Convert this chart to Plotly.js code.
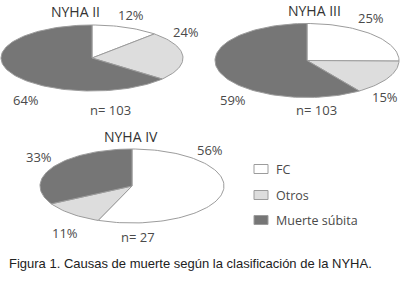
<!DOCTYPE html>
<html>
<head>
<meta charset="utf-8">
<script src="https://cdn.plot.ly/plotly-3.0.1.min.js"></script>
<style>html,body{margin:0;padding:0;background:#fff;}#chart{width:400px;height:281px;}</style>
</head>
<body>
<div id="chart"></div>
<script>
// ---- data ----
const categories = ['FC', 'Otros', 'Muerte súbita'];
const panelTitles = ['NYHA II', 'NYHA III', 'NYHA IV'];
const nLabels = ['n= 103', 'n= 103', 'n= 27'];
const nyhaII = [12, 24, 64];
const nyhaIII = [25, 15, 59];
const nyhaIV = [56, 11, 33];
const caption = 'Figura 1. Causas de muerte según la clasificación de la NYHA.';

// ---- styling / layout ----
const sliceColors = ['#ffffff', '#dddddd', '#767676'];
const edgeColor = '#9c9c9c';
const textColor = '#4a4a4a';
const labelFont = 'Open Sans, DejaVu Sans, sans-serif';
// ellipse geometry per panel (pixel space)
const geom = [
  {cx: 92, cy: 58, rx: 91, ry: 33},
  {cx: 307, cy: 60.5, rx: 92, ry: 37},
  {cx: 132, cy: 186, rx: 92, ry: 37}
];
const titlePos = [[75, 11], [314, 10], [131, 136]];
const nPos = [[110, 110], [316, 110], [138, 237]];
const pctPos = [
  [[131, 15], [186, 32], [26, 100]],
  [[371, 18], [385, 97], [233, 100]],
  [[210, 150], [65, 233], [39, 157]]
];

const series = [nyhaII, nyhaIII, nyhaIV];
const traces = [];
const annotations = [];

series.forEach((vals, p) => {
  const g = geom[p];
  const total = vals.reduce((a, b) => a + b, 0);
  let start = 0;
  vals.forEach((v, i) => {
    const a0 = start / total * 2 * Math.PI;
    const a1 = (start + v) / total * 2 * Math.PI;
    start += v;
    const xs = [g.cx], ys = [g.cy];
    const steps = Math.max(4, Math.ceil((a1 - a0) / (Math.PI / 90)));
    for (let k = 0; k <= steps; k++) {
      const t = a0 + (a1 - a0) * k / steps;
      xs.push(g.cx + g.rx * Math.sin(t));
      ys.push(g.cy - g.ry * Math.cos(t));
    }
    xs.push(g.cx); ys.push(g.cy);
    traces.push({
      type: 'scatter', mode: 'lines', x: xs, y: ys, fill: 'toself',
      fillcolor: sliceColors[i], line: {color: edgeColor, width: 1},
      name: categories[i], hoverinfo: 'name', showlegend: false
    });
    annotations.push({
      x: pctPos[p][i][0], y: pctPos[p][i][1], xref: 'x', yref: 'y',
      text: v + '%', showarrow: false, xanchor: 'center', yanchor: 'middle',
      font: {family: labelFont, size: 13, color: textColor}
    });
  });
  annotations.push({
    x: titlePos[p][0], y: titlePos[p][1], xref: 'x', yref: 'y',
    text: panelTitles[p], showarrow: false, xanchor: 'center', yanchor: 'middle',
    font: {family: labelFont, size: 14, color: '#333333'}
  });
  annotations.push({
    x: nPos[p][0], y: nPos[p][1], xref: 'x', yref: 'y',
    text: nLabels[p], showarrow: false, xanchor: 'center', yanchor: 'middle',
    font: {family: labelFont, size: 13, color: textColor}
  });
});

// legend
const shapes = [];
const legendY = [169, 195, 220];
categories.forEach((c, i) => {
  shapes.push({
    type: 'rect', xref: 'x', yref: 'y', x0: 254, x1: 268,
    y0: legendY[i] - 4.5, y1: legendY[i] + 4.5,
    fillcolor: sliceColors[i], line: {color: edgeColor, width: 1}
  });
  annotations.push({
    x: 274, y: legendY[i], xref: 'x', yref: 'y', text: c, showarrow: false,
    xanchor: 'left', yanchor: 'middle',
    font: {family: labelFont, size: 12.5, color: textColor}
  });
});

annotations.push({
  x: 7, y: 263, xref: 'x', yref: 'y', text: caption, showarrow: false,
  xanchor: 'left', yanchor: 'middle',
  font: {family: 'Liberation Sans, Arial, sans-serif', size: 13, color: '#222222'}
});

const layout = {
  width: 400, height: 281,
  margin: {l: 0, r: 0, t: 0, b: 0},
  paper_bgcolor: '#ffffff', plot_bgcolor: '#ffffff',
  showlegend: false,
  xaxis: {range: [0, 400], visible: false, fixedrange: true},
  yaxis: {range: [281, 0], visible: false, fixedrange: true},
  shapes: shapes,
  annotations: annotations
};

Plotly.newPlot('chart', traces, layout, {staticPlot: true, displayModeBar: false});
</script>
</body>
</html>
